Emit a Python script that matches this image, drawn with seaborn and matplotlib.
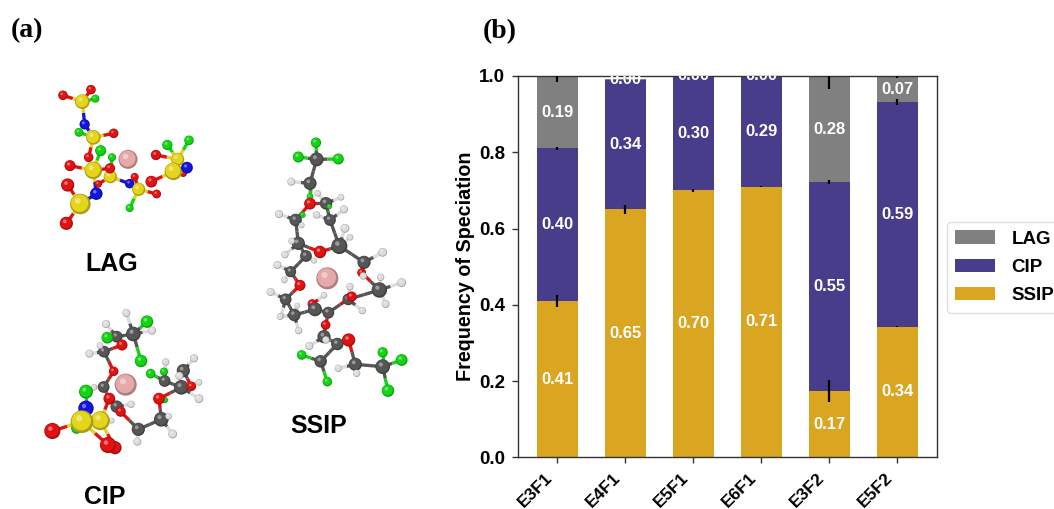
import matplotlib.pyplot as plt
import numpy as np
import seaborn as sns
from matplotlib.patches import Circle

# bar data
systems = ["E3F1", "E4F1", "E5F1", "E6F1", "E3F2", "E5F2"]
ssip = [0.41, 0.65, 0.70, 0.71, 0.174, 0.343]
cip = [0.40, 0.34, 0.30, 0.29, 0.548, 0.588]
lag = [0.19, 0.003, 0.00, 0.00, 0.278, 0.069]
ssip_err = [0.015, 0.012, 0.004, 0.002, 0.028, 0.002]
cip_err = [0.005, 0.006, 0.0, 0.0, 0.005, 0.008]
lag_err = [0.016, 0.0, 0.0, 0.0, 0.033, 0.006]
yticks = [0.0, 0.2, 0.4, 0.6, 0.8, 1.0]

# molecule sketches, (element, x, y, radius) in 3x zoomed pixels
lag_atoms = [("Y",247,95,20),("R",189,76,13),("R",273,59,13),("G",286,86,11),("B",254,163,14),
    ("Y",280,202,20),("G",237,187,12),("R",341,190,13),("R",266,262,13),("R",295,342,10),
    ("Y",280,301,24),("G",302,242,15),("R",210,287,15),("G",336,262,11),("Y",331,320,18),
    ("R",330,295,14),("B",289,371,17),("Y",241,402,28),("R",203,345,18),("R",199,460,18),
    ("B",389,341,13),("Y",416,358,18),("R",404,321,11),("R",470,372,12),("G",389,414,11),
    ("P",384,268,26),("R",550,310,10),("Y",533,268,18),("G",502,225,14),("G",567,211,13),
    ("R",468,255,14),("Y",520,304,24),("B",561,293,16),("R",454,335,16)]
lag_bonds = [(0,1),(0,2),(0,3),(0,4),(4,5),(5,6),(5,7),(5,8),(10,11),(10,12),(10,15),(10,16),
    (16,17),(17,18),(17,19),(14,13),(14,9),(14,20),(20,21),(21,22),(21,23),(21,24),
    (27,28),(27,29),(27,30),(27,31),(31,32),(31,33),(31,26)]

cip_atoms = [("W",319,39,11),("W",396,92,11),("K",340,102,20),("G",381,65,17),("G",363,183,17),
    ("K",290,110,16),("G",262,113,16),("W",258,72,11),("R",306,135,15),("K",252,155,16),
    ("W",240,137,9),("W",208,161,11),("R",281,214,13),("K",251,261,16),("W",222,262,9),
    ("P",317,254,30),("K",290,320,17),("R",268,296,16),("W",333,313,10),("R",302,335,14),
    ("K",355,388,18),("W",352,425,11),("K",424,358,20),("W",458,402,12),("W",446,349,9),
    ("G",434,300,9),("R",417,296,16),("K",484,262,20),("R",514,259,13),("W",537,296,12),
    ("K",434,243,16),("G",392,221,13),("G",432,215,11),("W",437,186,10),("K",490,212,18),
    ("W",522,175,11),("W",478,228,11),("W",537,247,9),("B",198,325,21),("G",198,275,19),
    ("G",170,385,15),("R",97,393,22),("W",275,362,8),("Y",241,362,26),("Y",186,365,31),
    ("R",285,443,18),("R",264,435,22)]
cip_bonds = [(2,0),(2,1),(2,3),(2,4),(2,5),(5,6),(5,8),(5,7),(8,9),(9,10),(9,11),(9,12),(12,13),
    (13,14),(13,17),(17,16),(16,18),(16,19),(19,20),(20,21),(20,22),(22,23),(22,24),(22,26),
    (26,25),(26,27),(27,28),(27,29),(27,30),(30,31),(30,32),(30,33),(28,34),(34,35),(34,36),
    (27,37),(39,38),(38,44),(44,41),(44,43),(44,46),(43,45),(17,43),(44,40)]

ssip_atoms = [("K",200,58,19),("G",145,51,15),("G",265,57,15),("G",198,8,14),("K",180,130,18),
    ("W",124,125,11),("G",180,170,9),("K",228,190,17),("R",180,191,16),("W",203,160,9),
    ("W",273,172,9),("G",158,225,8),("G",238,200,7),("K",137,240,17),("W",87,222,11),
    ("W",155,256,8),("K",240,240,16),("W",200,225,10),("W",282,208,11),("K",145,310,18),
    ("W",125,303,9),("W",105,344,10),("R",210,336,17),("K",268,318,22),("W",285,265,12),
    ("W",300,292,9),("K",168,348,16),("W",192,362,8),("K",122,395,15),("W",82,375,11),
    ("W",103,420,9),("K",342,367,18),("W",398,337,12),("R",335,398,12),("W",340,408,10),
    ("P",232,415,30),("R",150,436,15),("K",107,478,16),("W",62,456,11),("W",93,528,9),
    ("K",388,450,21),("W",392,412,10),("W",455,428,12),("W",407,492,11),("K",295,478,16),
    ("R",305,470,14),("W",300,440,10),("W",337,512,10),("K",133,525,17),("W",142,497,8),
    ("W",146,572,10),("W",90,530,9),("R",187,492,13),("K",195,508,19),("W",222,466,9),
    ("K",235,518,16),("R",227,555,13),("K",222,590,18),("W",178,618,11),("W",228,600,10),
    ("K",262,612,17),("R",296,600,18),("G",155,645,13),("K",212,664,17),("G",232,725,13),
    ("K",316,673,18),("W",265,685,10),("W",320,700,10),("K",398,680,20),("G",398,637,14),
    ("G",455,660,16),("G",414,752,17)]
ssip_bonds = [(0,1),(0,2),(0,3),(0,4),(4,5),(4,8),(4,6),(8,7),(7,9),(7,10),(8,13),(13,11),(13,14),
    (13,15),(7,12),(7,16),(16,17),(16,18),(16,23),(13,19),(19,20),(19,21),(19,22),(22,23),
    (23,24),(23,25),(23,31),(19,26),(26,27),(26,28),(28,29),(28,30),(28,36),(36,37),(37,38),
    (37,39),(31,32),(31,33),(33,34),(33,40),(40,41),(40,42),(40,43),(40,44),(44,45),(44,46),
    (44,47),(45,55),(55,53),(53,52),(53,48),(48,49),(48,50),(48,51),(37,48),(52,54),(55,56),
    (56,57),(57,58),(57,59),(57,60),(60,61),(60,63),(63,62),(63,64),(61,65),(65,66),(65,67),
    (65,68),(68,69),(68,70),(68,71)]

colors = {"Y": "#e4d41c", "R": "#e01212", "G": "#14d414", "B": "#1414dc",
          "K": "#565656", "W": "#dcdcdc", "P": "#e6a9a9"}


def draw_molecule(bg, atoms, bonds, ox, oy):
    pts = [(ox + a[1] / 3, oy + a[2] / 3) for a in atoms]
    for i, j in bonds:
        (x0, y0), (x1, y1) = pts[i], pts[j]
        xm, ym = (x0 + x1) / 2, (y0 + y1) / 2
        bg.plot([x0, xm], [y0, ym], color=colors[atoms[i][0]], lw=2.4, solid_capstyle="butt", zorder=1)
        bg.plot([xm, x1], [ym, y1], color=colors[atoms[j][0]], lw=2.4, solid_capstyle="butt", zorder=1)
    for n, (el, _, _, r) in enumerate(atoms):
        x, y = pts[n]
        r = r / 3 * 1.1
        c = np.array(plt.matplotlib.colors.to_rgb(colors[el]))
        z = 2 + n * 0.01
        bg.add_patch(Circle((x, y), r, color=c * 0.75, lw=0, zorder=z))
        bg.add_patch(Circle((x - r * 0.06, y - r * 0.08), r * 0.85, color=c, lw=0, zorder=z))
        bg.add_patch(Circle((x - r * 0.25, y - r * 0.3), r * 0.28, color=c * 0.6 + 0.4, lw=0, zorder=z))


sns.set_theme(style="ticks")
plt.rcParams["font.family"] = ["Liberation Sans", "DejaVu Sans"]
plt.rcParams["font.weight"] = "bold"
plt.rcParams["text.color"] = "black"
plt.rcParams["axes.labelcolor"] = "black"
plt.rcParams["xtick.labelcolor"] = "black"
plt.rcParams["ytick.labelcolor"] = "black"

fig = plt.figure(figsize=(10.54, 5.09), dpi=100)

# left panel drawn in pixel coordinates
bg = fig.add_axes([0, 0, 1, 1])
bg.set_xlim(0, 1054)
bg.set_ylim(509, 0)
bg.axis("off")
draw_molecule(bg, lag_atoms, lag_bonds, 0, 70)
draw_molecule(bg, cip_atoms, cip_bonds, 20, 300)
draw_molecule(bg, ssip_atoms, ssip_bonds, 250, 140)
bg.text(112, 264, "LAG", fontsize=18, ha="center", va="center")
bg.text(105, 497, "CIP", fontsize=18, ha="center", va="center")
bg.text(319, 426, "SSIP", fontsize=18, ha="center", va="center")
bg.text(11, 31, "(a)", fontsize=20, family="Liberation Serif", va="center")
bg.text(483, 32, "(b)", fontsize=20, family="Liberation Serif", va="center")

# stacked bars
ax = fig.add_axes([517.7 / 1054, 51.7 / 509, 419.6 / 1054, 381.3 / 509])
x = np.arange(len(systems))
bottom = np.zeros(len(systems))
layers = [("SSIP", ssip, ssip_err, "#daa520"),
          ("CIP", cip, cip_err, "#483d8b"),
          ("LAG", lag, lag_err, "#808080")]
for name, vals, errs, col in layers:
    vals = np.array(vals)
    sns.barplot(x=systems, y=vals, bottom=bottom, color=col, saturation=1, width=0.6,
                label=name, errorbar=None, legend=False, linewidth=0, ax=ax)
    tops = bottom + vals
    ax.errorbar(x, tops, yerr=errs, fmt="none", ecolor="black", elinewidth=1.6, zorder=4)
    for xi, b, v in zip(x, bottom, vals):
        ax.text(xi, b + v / 2, f"{v:.2f}", color="white", fontsize=12, fontweight="bold",
                ha="center", va="center", clip_on=True, zorder=5)
    bottom = tops

ax.set_xlim(-0.58, 5.59)
ax.set_ylim(0, 1)
ax.set_yticks(yticks)
ax.set_yticklabels([f"{t:.1f}" for t in yticks], fontsize=13.5, fontweight="bold")
ax.set_xticks(x)
ax.set_xticklabels([])
ax.set_xlabel("")
# x labels sit left of their ticks in the original, tick labels can't be shifted
for xi, name in zip(x, systems):
    ax.annotate(name, xy=(xi, 0), xycoords=("data", "axes fraction"), xytext=(-9, -9),
                textcoords="offset points", rotation=45, ha="right", va="top",
                rotation_mode="anchor", fontsize=12.5, fontweight="bold")
ax.set_ylabel("Frequency of Speciation", fontsize=14.2, fontweight="bold", labelpad=3)
ax.tick_params(axis="both", length=4, width=1, color="#333333", pad=5)
for s in ax.spines.values():
    s.set_visible(True)
    s.set_color("#333333")
    s.set_linewidth(1)

h, l = ax.get_legend_handles_labels()
fig.legend(h[::-1], l[::-1], loc="upper left", bbox_to_anchor=(947 / 1054, 1 - 222 / 509),
           borderaxespad=0, frameon=True, fancybox=True, edgecolor="#d8d8d8",
           handlelength=2.13, handleheight=0.7, handletextpad=0.85, labelspacing=0.6,
           borderpad=0.45, prop={"weight": "bold", "size": 13.5})

plt.savefig("out.png", dpi=100)
